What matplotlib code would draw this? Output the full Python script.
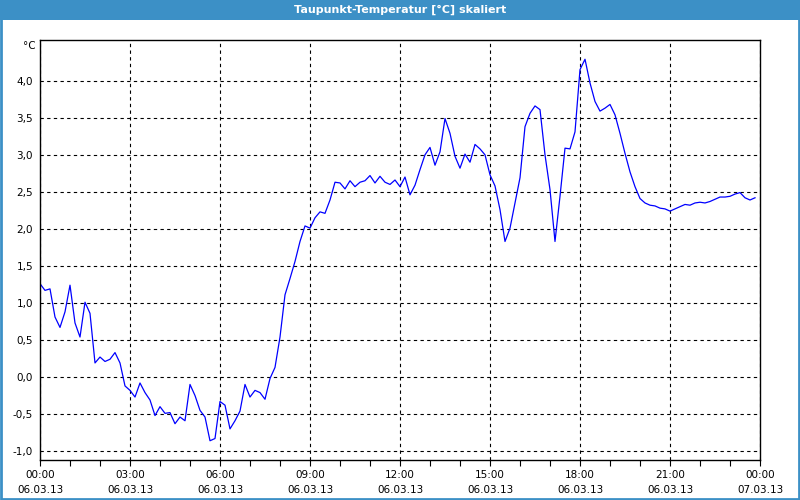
import numpy as np
import matplotlib
matplotlib.use("Agg")
import matplotlib.pyplot as plt
from matplotlib.patches import Rectangle

# Messwerte alle 10 Minuten, 06.03.13 00:00 bis 23:50
taupunkt = [
    1.26, 1.17, 1.19, 0.81, 0.67, 0.88, 1.24, 0.73, 0.54, 1.01,
    0.86, 0.19, 0.27, 0.21, 0.24, 0.33, 0.19, -0.12, -0.18, -0.27,
    -0.08, -0.21, -0.31, -0.52, -0.40, -0.49, -0.48, -0.63, -0.54, -0.59,
    -0.10, -0.25, -0.45, -0.54, -0.86, -0.83, -0.33, -0.38, -0.70, -0.59,
    -0.46, -0.10, -0.27, -0.18, -0.21, -0.30, -0.02, 0.13, 0.54, 1.11,
    1.33, 1.56, 1.83, 2.04, 2.01, 2.15, 2.23, 2.21, 2.39, 2.63,
    2.62, 2.54, 2.65, 2.57, 2.63, 2.65, 2.72, 2.62, 2.71, 2.63,
    2.60, 2.66, 2.57, 2.70, 2.46, 2.59, 2.80, 3.00, 3.10, 2.86,
    3.04, 3.49, 3.29, 2.98, 2.82, 3.01, 2.90, 3.14, 3.08, 3.00,
    2.73, 2.58, 2.26, 1.83, 2.01, 2.35, 2.69, 3.38, 3.56, 3.66,
    3.61, 3.00, 2.53, 1.83, 2.44, 3.09, 3.08, 3.31, 4.15, 4.29,
    3.97, 3.72, 3.59, 3.63, 3.68, 3.54, 3.29, 3.02, 2.77, 2.57,
    2.41, 2.35, 2.32, 2.31, 2.28, 2.27, 2.24, 2.27, 2.30, 2.33,
    2.32, 2.35, 2.36, 2.35, 2.37, 2.40, 2.43, 2.43, 2.44, 2.47,
    2.49, 2.42, 2.39, 2.42,
]
stunden = np.arange(len(taupunkt)) * 10 / 60.0

x_ticks = [0, 3, 6, 9, 12, 15, 18, 21, 24]
x_labels = ["00:00\n06.03.13", "03:00\n06.03.13", "06:00\n06.03.13",
            "09:00\n06.03.13", "12:00\n06.03.13", "15:00\n06.03.13",
            "18:00\n06.03.13", "21:00\n06.03.13", "00:00\n07.03.13"]
y_ticks = [-1.0, -0.5, 0.0, 0.5, 1.0, 1.5, 2.0, 2.5, 3.0, 3.5, 4.0]
y_labels = ["-1,0", "-0,5", "0,0", "0,5", "1,0", "1,5", "2,0", "2,5", "3,0", "3,5", "4,0"]

blau = "#3c90c6"

fig = plt.figure(figsize=(8, 5), dpi=100)
fig.patch.set_facecolor("white")

# Titelleiste und Rahmen
fig.patches.append(Rectangle((0, 0.96), 1, 0.04, transform=fig.transFigure,
                             facecolor=blau, edgecolor="none", zorder=0))
fig.patches.append(Rectangle((0.001, 0.002), 0.998, 0.996, transform=fig.transFigure,
                             facecolor="none", edgecolor=blau, linewidth=2, zorder=1))
fig.text(0.5, 0.98, "Taupunkt-Temperatur [°C] skaliert", color="white",
         fontsize=8, fontweight="bold", ha="center", va="center")
fig.text(36 / 800, 1 - 46 / 500, "°C", fontsize=7.5, ha="right", va="center")

ax = fig.add_axes([0.05, 0.08, 0.9, 0.84])
ax.plot(stunden, taupunkt, color="#0000ff", linewidth=0.9)

ax.set_xlim(0, 24)
ax.set_ylim(-1.12, 4.55)
ax.set_xticks(x_ticks)
ax.set_xticklabels(x_labels, fontsize=7.5, linespacing=1.7)
ax.set_xticks(np.arange(0, 25, 1), minor=True)
ax.set_yticks(y_ticks)
ax.set_yticklabels(y_labels, fontsize=7.5)

ax.tick_params(axis="x", which="both", direction="out", length=4, width=0.8, pad=3)
ax.tick_params(axis="y", length=0, pad=5)
ax.grid(True, which="major", color="black", linestyle=(0, (3, 3)), linewidth=0.8)
for s in ax.spines.values():
    s.set_color("black")
    s.set_linewidth(1)

fig.savefig("out.png", dpi=100)
